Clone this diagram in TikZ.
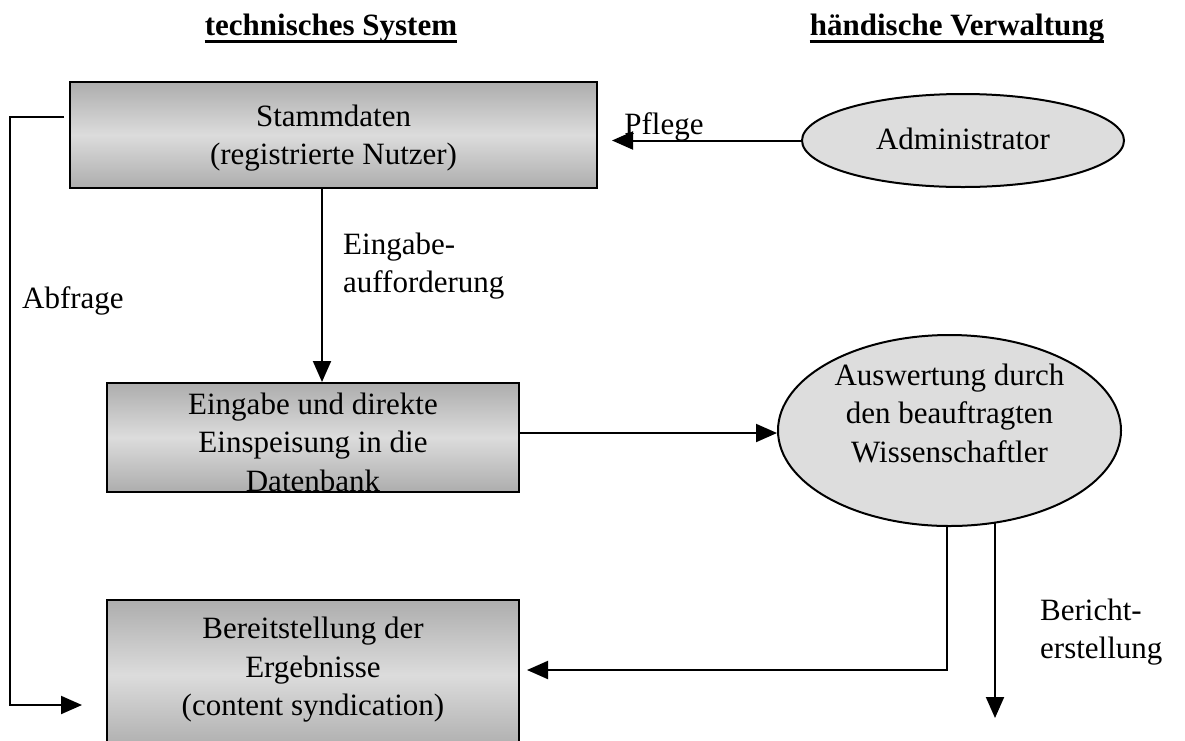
\documentclass[tikz,border=0pt]{standalone}
\usepackage{fontspec}
\setmainfont{Liberation Serif}
\usetikzlibrary{arrows.meta,shapes.geometric}
\definecolor{boxdark}{HTML}{ADADAD}
\definecolor{boxlight}{HTML}{DCDCDC}
\definecolor{ellfill}{HTML}{DDDDDD}
\begin{document}
\begin{tikzpicture}[x=1pt,y=-1pt,
  txt/.style={font=\fontsize{31}{38.5}\selectfont, inner sep=0pt, align=center},
  hdr/.style={font=\fontsize{31}{38}\selectfont\bfseries, inner sep=0pt, anchor=base},
  box/.style={draw=black, line width=2pt, rectangle, inner sep=0pt,
    top color=boxdark, bottom color=boxdark, middle color=boxlight},
  ell/.style={draw=black, line width=2pt, ellipse, inner sep=0pt, fill=ellfill},
  arr/.style={line width=2pt, -{Triangle[length=21pt,width=18pt]}}]
\useasboundingbox (0,0) rectangle (1185,740);
% headers
\node[hdr] (h1) at (331,35) {technisches System};
\node[hdr] (h2) at (957,35) {händische Verwaltung};
\draw[line width=2.2pt] ([yshift=-6.5pt]h1.base west) -- ([yshift=-6.5pt]h1.base east);
\draw[line width=2.2pt] ([yshift=-6.5pt]h2.base west) -- ([yshift=-6.5pt]h2.base east);
% boxes
\node[box, minimum width=527pt, minimum height=106pt] (b1) at (333.5,135) {};
\node[txt] (t1) at (333.5,138) {Stammdaten\\(registrierte Nutzer)};
\node[box, minimum width=412pt, minimum height=109pt] (b2) at (313,437.5) {};
\begin{scope}
\clip (b2.south west) rectangle (b2.north east);
\node[txt] (t2) at (313,442) {Eingabe und direkte\\Einspeisung in die\\Datenbank};
\end{scope}
\node[box, minimum width=412pt, minimum height=150pt] (b3) at (313,675) {};
\node[txt] (t3) at (313,670) {Bereitstellung der\\Ergebnisse\\(content syndication)};
% ellipses
\node[ell, minimum width=322pt, minimum height=93pt] (e1) at (963,140.5) {};
\node[txt] (te1) at (963,139) {Administrator};
\node[ell, minimum width=343pt, minimum height=191pt] (e2) at (949.5,430.5) {};
\node[txt] (te2) at (949.5,413) {Auswertung durch\\den beauftragten\\Wissenschaftler};
% labels
\node[txt] (lp) at (664,127) {Pflege};
\node[txt, anchor=west] (la) at (22,301) {Abfrage};
\node[txt, anchor=west, align=left] (le) at (343,266) {Eingabe-\\aufforderung};
\node[txt, anchor=west, align=left] (lb) at (1040,632) {Bericht-\\erstellung};
% coordinates
\coordinate (v1) at (322,0);
\coordinate (pt) at (612,140.5);
\coordinate (as) at (64,117);
\coordinate (ac1) at (10,117);
\coordinate (ac2) at (10,705);
\coordinate (at) at (82,705);
\coordinate (hy) at (0,433);
\coordinate (rs) at (947,526);
\coordinate (rc) at (947,670);
\coordinate (rt) at (527,670);
\coordinate (bs) at (995,523);
\coordinate (bt) at (995,718);
% connectors
\draw[arr] (b1.south -| v1) -- (b2.north -| v1);
\draw[arr] (e1.west) -- (pt);
\draw[arr] (as) -- (ac1) -- (ac2) -- (at);
\draw[arr] (b2.east |- hy) -- (e2.west |- hy);
\draw[arr] (rs) -- (rc) -- (rt);
\draw[arr] (bs) -- (bt);
\end{tikzpicture}
\end{document}
